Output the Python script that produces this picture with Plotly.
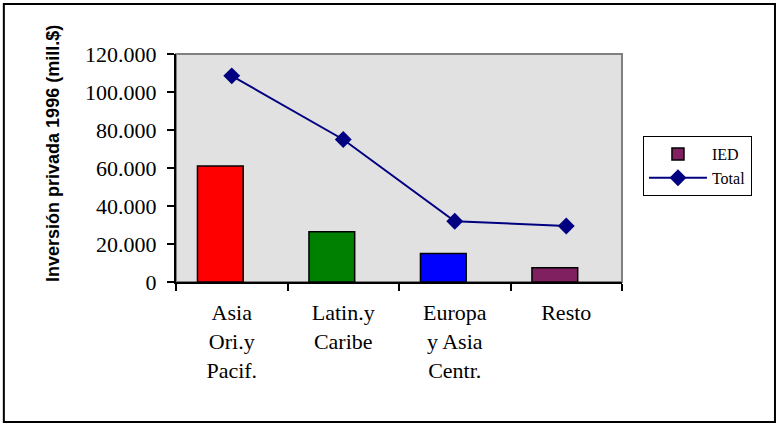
import plotly.graph_objects as go

categories = ["Asia<br>Ori.y<br>Pacif.", "Latin.y<br>Caribe", "Europa<br>y Asia<br>Centr.", "Resto"]
ied_values = [61000, 26500, 15000, 7500]
total_values = [108500, 75000, 32000, 29500]
bar_colors = ["#FF0000", "#008000", "#0000FF", "#802060"]
y_ticks = [0, 20000, 40000, 60000, 80000, 100000, 120000]

serif = "Liberation Serif"
sans = "Liberation Sans"

fig = go.Figure()
fig.add_trace(go.Bar(
    x=categories, y=ied_values, name="IED", showlegend=False,
    marker=dict(color=bar_colors, line=dict(color="black", width=1.5)),
    width=0.41,
))
fig.add_trace(go.Bar(
    x=[categories[0]], y=[None], name="IED", showlegend=True,
    marker=dict(color="#802060", line=dict(color="black", width=1.5)),
))
fig.add_trace(go.Scatter(
    x=categories, y=total_values, name="Total", mode="lines+markers",
    line=dict(color="#000080", width=2),
    marker=dict(symbol="diamond", size=13, color="#000080"),
))

fig.update_layout(
    width=777, height=423,
    margin=dict(l=176, r=155, t=54, b=141),
    paper_bgcolor="white", plot_bgcolor="#E1E1E1",
    font=dict(family=serif, color="black"),
    separators=",.",
    bargap=0.59,
    showlegend=True,
    legend=dict(
        x=1.047, y=0.64, xanchor="left", yanchor="top",
        bordercolor="black", borderwidth=1,
        font=dict(family=serif, size=16, color="black"),
        traceorder="normal", itemwidth=58,
    ),
    xaxis=dict(
        type="category", tickson="boundaries",
        showline=True, linecolor="black", linewidth=2,
        ticks="outside", ticklen=7, tickwidth=2, tickcolor="black",
        tickfont=dict(family=serif, size=22, color="black"),
        ticklabelstandoff=10,
        showgrid=False, zeroline=False,
    ),
    yaxis=dict(
        range=[0, 120000], tickvals=y_ticks, tickformat=",d",
        showline=True, linecolor="black", linewidth=2,
        ticks="outside", ticklen=7, tickwidth=2, tickcolor="black",
        tickfont=dict(family=serif, size=22, color="black"),
        ticklabelstandoff=6,
        showgrid=False, zeroline=False,
    ),
    shapes=[
        dict(type="rect", xref="paper", yref="paper", x0=0, x1=1, y0=0, y1=1,
             line=dict(color="#808080", width=2), layer="below"),
        dict(type="rect", xref="paper", yref="paper", x0=-0.386, x1=1.343, y0=-0.614, y1=1.219,
             line=dict(color="black", width=2)),
    ],
    annotations=[
        dict(text="Inversión privada 1996 (mill.$)", xref="paper", yref="paper",
             x=-0.2758, y=0.566, xanchor="center", yanchor="middle",
             textangle=-90, showarrow=False,
             font=dict(family=sans, size=18, color="black", weight="bold")),
    ],
)

fig.write_html("out.html", config={"displayModeBar": False},
               post_script="document.body.style.margin='0';document.body.style.overflow='hidden';")
